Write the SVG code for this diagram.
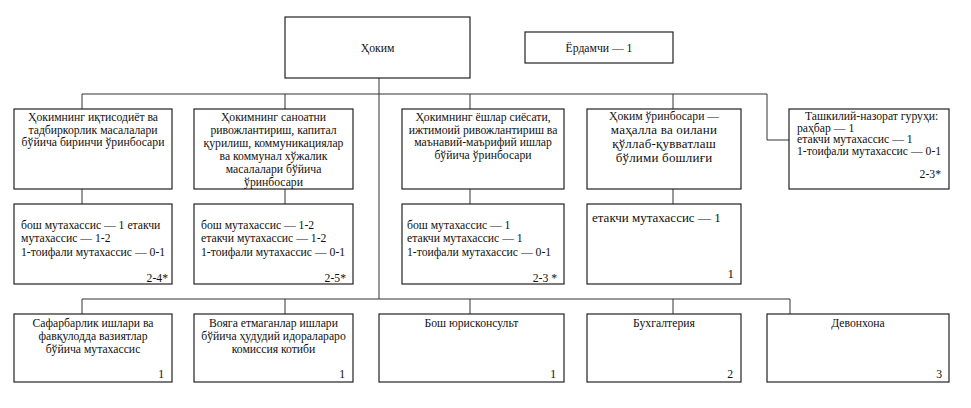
<svg xmlns="http://www.w3.org/2000/svg" width="971" height="408" viewBox="0 0 971 408">
<style>
.bg{fill:#ffffff}
.box{fill:#ffffff;stroke:#222222;stroke-width:1.2}
.ln{fill:none;stroke:#333333;stroke-width:1}
text{font-family:"Liberation Serif","Times New Roman",serif;font-size:11.7px;fill:#111111}
.c{text-anchor:middle}
.r{text-anchor:end}
.w{font-size:13px;letter-spacing:0.2px}
.w0{font-size:13px}
</style>
<rect class="bg" x="0" y="0" width="971" height="408"/>
<g id="connectors">
<path class="ln" d="M379,78 V299"/>
<path class="ln" d="M82,94 H767 V140 H789"/>
<path class="ln" d="M82,94 V109 M285,94 V109 M470,94 V109 M673,94 V109"/>
<path class="ln" d="M82,189 V204 M285,189 V204 M470,189 V204 M673,189 V204"/>
<path class="ln" d="M82,299 H790"/>
<path class="ln" d="M82,299 V314 M285,299 V314 M470,299 V314 M673,299 V314 M790,299 V314"/>
</g>
<g id="hokim">
<rect class="box" x="285" y="17" width="185" height="61"/>
<text class="c" x="377.5" y="52">Ҳоким</text>
</g>
<g id="yordamchi">
<rect class="box" x="525" y="32" width="148" height="31"/>
<text class="c" x="599" y="52">Ёрдамчи — 1</text>
</g>
<g id="deputy1">
<rect class="box" x="14" y="109" width="158" height="80"/>
<text class="c" x="93" y="121">Ҳокимнинг иқтисодиёт ва</text>
<text class="c" x="93" y="133.5">тадбиркорлик масалалари</text>
<text class="c" x="93" y="146">бўйича биринчи ўринбосари</text>
</g>
<g id="deputy2">
<rect class="box" x="194" y="109" width="159" height="80"/>
<text class="c" x="273.5" y="121">Ҳокимнинг саноатни</text>
<text class="c" x="273.5" y="134">ривожлантириш, капитал</text>
<text class="c" x="273.5" y="147">қурилиш, коммуникациялар</text>
<text class="c" x="273.5" y="160">ва коммунал хўжалик</text>
<text class="c" x="273.5" y="173">масалалари бўйича</text>
<text class="c" x="273.5" y="186">ўринбосари</text>
</g>
<g id="deputy3">
<rect class="box" x="402" y="109" width="162" height="80"/>
<text class="c" x="483" y="121">Ҳокимнинг ёшлар сиёсати,</text>
<text class="c" x="483" y="133.7">ижтимоий ривожлантириш ва</text>
<text class="c" x="483" y="146.4">маънавий-маърифий ишлар</text>
<text class="c" x="483" y="159">бўйича ўринбосари</text>
</g>
<g id="deputy4">
<rect class="box" x="587" y="109" width="154" height="80"/>
<text class="c" x="664" y="120">Ҳоким ўринбосари —</text>
<text class="c w" x="664" y="134">маҳалла ва оилани</text>
<text class="c w" x="664" y="148">қўллаб-қувватлаш</text>
<text class="c w" x="664" y="162">бўлими бошлиғи</text>
</g>
<g id="control-group">
<rect class="box" x="789" y="109" width="160" height="80"/>
<text x="805" y="120">Ташкилий-назорат гуруҳи:</text>
<text x="797" y="131.7">раҳбар — 1</text>
<text x="797" y="143">етакчи мутахассис — 1</text>
<text x="797" y="154.5">1-тоифали мутахассис — 0-1</text>
<text class="r" x="941" y="178">2-3*</text>
</g>
<g id="staff1">
<rect class="box" x="14" y="204" width="158" height="80"/>
<text x="21" y="229">бош мутахассис — 1 етакчи</text>
<text x="21" y="242">мутахассис — 1-2</text>
<text x="21" y="255.5">1-тоифали мутахассис — 0-1</text>
<text class="r" x="168" y="282">2-4*</text>
</g>
<g id="staff2">
<rect class="box" x="194" y="204" width="159" height="80"/>
<text x="201" y="229">бош мутахассис — 1-2</text>
<text x="201" y="242">етакчи мутахассис — 1-2</text>
<text x="201" y="255.5">1-тоифали мутахассис — 0-1</text>
<text class="r" x="346" y="282">2-5*</text>
</g>
<g id="staff3">
<rect class="box" x="402" y="204" width="162" height="80"/>
<text x="407" y="229">бош мутахассис — 1</text>
<text x="407" y="242">етакчи мутахассис — 1</text>
<text x="407" y="255.5">1-тоифали мутахассис — 0-1</text>
<text class="r" x="557" y="282">2-3 *</text>
</g>
<g id="staff4">
<rect class="box" x="587" y="204" width="154" height="80"/>
<text class="w0" x="592" y="222">етакчи мутахассис — 1</text>
<text class="w0 r" x="734" y="278">1</text>
</g>
<g id="mobilization">
<rect class="box" x="14" y="314" width="158" height="68"/>
<text class="c" x="93" y="327">Сафарбарлик ишлари ва</text>
<text class="c" x="93" y="340">фавқулодда вазиятлар</text>
<text class="c" x="93" y="353">бўйича мутахассис</text>
<text class="r" x="164" y="378">1</text>
</g>
<g id="minors-commission">
<rect class="box" x="194" y="314" width="159" height="68"/>
<text class="c" x="273.5" y="327">Вояга етмаганлар ишлари</text>
<text class="c" x="273.5" y="340">бўйича ҳудудий идоралараро</text>
<text class="c" x="273.5" y="353">комиссия котиби</text>
<text class="r" x="345" y="378">1</text>
</g>
<g id="legal">
<rect class="box" x="379" y="314" width="185" height="68"/>
<text class="c" x="471.5" y="327">Бош юрисконсульт</text>
<text class="r" x="556" y="378">1</text>
</g>
<g id="accounting">
<rect class="box" x="587" y="314" width="154" height="68"/>
<text class="c" x="664" y="327">Бухгалтерия</text>
<text class="r" x="733" y="378">2</text>
</g>
<g id="office">
<rect class="box" x="767" y="314" width="182" height="68"/>
<text class="c" x="858" y="327">Девонхона</text>
<text class="r" x="942" y="378">3</text>
</g>
</svg>
